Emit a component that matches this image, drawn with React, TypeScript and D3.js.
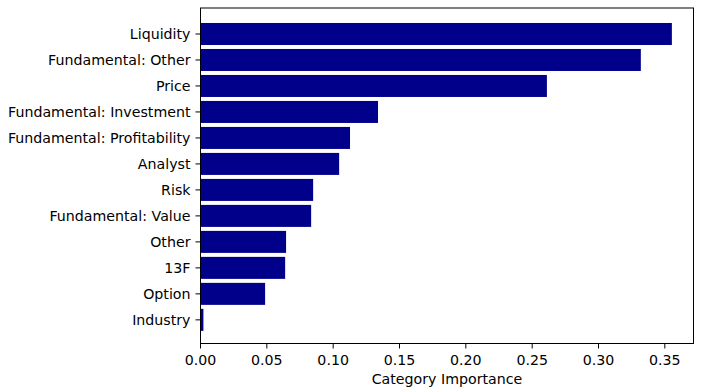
import React from 'react'
import { scaleLinear } from 'd3'

const categories = [
  'Liquidity', 'Fundamental: Other', 'Price', 'Fundamental: Investment',
  'Fundamental: Profitability', 'Analyst', 'Risk', 'Fundamental: Value',
  'Other', '13F', 'Option', 'Industry',
]
const importance = [0.3553, 0.3319, 0.2611, 0.1338, 0.1127, 0.1045, 0.0849, 0.0834, 0.0645, 0.0638, 0.0487, 0.0022]
const xTicks = [0, 0.05, 0.1, 0.15, 0.2, 0.25, 0.3, 0.35]

const W = 703, H = 392
const margin = { top: 8, right: 9.5, bottom: 48.5, left: 200.5 }
const font = 'DejaVu Sans, sans-serif'
const fs = 14.2

export default function App() {
  const innerW = W - margin.left - margin.right
  const innerH = H - margin.top - margin.bottom

  const x = scaleLinear().domain([0, 0.3716]).range([0, innerW])
  // unit step 26px; top pad 1 unit, bottom pad ~0.91 unit
  const y = scaleLinear().domain([-1, categories.length - 1 + 0.91]).range([0, innerH])
  const barH = 22

  return (
    <svg width={W} height={H} style={{ position: 'absolute', left: 0, top: 0, fontFamily: font }}>
      <g transform={`translate(${margin.left},${margin.top})`}>
        {categories.map((c, i) => (
          <rect key={c} x={x(0)} y={y(i) - barH / 2} width={x(importance[i]) - x(0)} height={barH} fill="#00008b" />
        ))}
        <rect x={0} y={0} width={innerW} height={innerH} fill="none" stroke="#000" strokeWidth={1} />
        {categories.map((c, i) => (
          <g key={c} transform={`translate(0,${y(i)})`}>
            <line x1={-5} x2={0} stroke="#000" />
            <text x={-10} dy="0.36em" textAnchor="end" fontSize={fs} fill="#000">{c}</text>
          </g>
        ))}
        {xTicks.map(t => (
          <g key={t} transform={`translate(${x(t)},${innerH})`}>
            <line y2={5} stroke="#000" />
            <text y={21.5} textAnchor="middle" fontSize={fs} fill="#000">{t.toFixed(2)}</text>
          </g>
        ))}
        <text x={innerW / 2} y={innerH + 40} textAnchor="middle" fontSize={fs} fill="#000">Category Importance</text>
      </g>
    </svg>
  )
}
